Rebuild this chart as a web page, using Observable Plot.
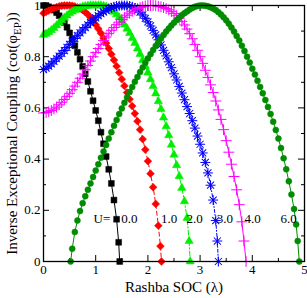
<!DOCTYPE html>
<html><head><meta charset="utf-8">
<script src="https://cdn.jsdelivr.net/npm/d3@7"></script>
<script src="https://cdn.jsdelivr.net/npm/@observablehq/plot@0.6"></script>
<style>body{margin:0;background:#fff}</style>
</head><body><div id="chart"></div>
<script>
// [lambda, cot(phi_EP)]
const u0 = [[0,1],[0.05,1],[0.1,0.995],[0.15,0.99],[0.2,0.982],[0.25,0.972],[0.3,0.96],[0.35,0.948],[0.4,0.933],[0.45,0.915],[0.5,0.893],[0.55,0.868],[0.6,0.843],[0.65,0.817],[0.7,0.79],[0.75,0.762],[0.8,0.733],[0.85,0.703],[0.9,0.665],[0.95,0.628],[1.0,0.59],[1.05,0.55],[1.1,0.505],[1.15,0.46],[1.2,0.41],[1.25,0.36],[1.3,0.305],[1.35,0.24],[1.4,0.165],[1.44,0.075],[1.46,0]];
const u1 = [[0,0.97],[0.05,0.975],[0.1,0.98],[0.15,0.985],[0.2,0.99],[0.25,0.994],[0.3,0.997],[0.35,0.999],[0.4,1],[0.45,1],[0.5,1],[0.55,0.999],[0.6,0.997],[0.65,0.993],[0.7,0.988],[0.75,0.982],[0.8,0.974],[0.85,0.965],[0.9,0.954],[0.95,0.94],[1.0,0.925],[1.05,0.909],[1.1,0.892],[1.15,0.873],[1.2,0.853],[1.25,0.832],[1.3,0.81],[1.35,0.787],[1.4,0.763],[1.45,0.738],[1.5,0.712],[1.55,0.686],[1.6,0.66],[1.65,0.634],[1.7,0.607],[1.75,0.578],[1.8,0.548],[1.85,0.515],[1.9,0.478],[1.95,0.437],[2.0,0.392],[2.05,0.343],[2.1,0.29],[2.15,0.225],[2.2,0.14],[2.24,0.06],[2.26,0]];
const u2 = [[0,0.885],[0.05,0.889],[0.1,0.895],[0.15,0.903],[0.2,0.912],[0.25,0.922],[0.3,0.932],[0.35,0.942],[0.4,0.952],[0.45,0.961],[0.5,0.969],[0.55,0.976],[0.6,0.982],[0.65,0.987],[0.7,0.991],[0.75,0.995],[0.8,0.997],[0.85,0.999],[0.9,1],[0.95,1],[1.0,1],[1.05,1],[1.1,1],[1.15,0.998],[1.2,0.995],[1.25,0.99],[1.3,0.983],[1.35,0.975],[1.4,0.965],[1.45,0.953],[1.5,0.94],[1.55,0.925],[1.6,0.909],[1.65,0.892],[1.7,0.873],[1.75,0.853],[1.8,0.832],[1.85,0.81],[1.9,0.787],[1.95,0.763],[2.0,0.738],[2.05,0.712],[2.1,0.685],[2.15,0.656],[2.2,0.626],[2.25,0.595],[2.3,0.562],[2.35,0.528],[2.4,0.493],[2.45,0.456],[2.5,0.417],[2.55,0.376],[2.6,0.333],[2.65,0.287],[2.7,0.235],[2.75,0.17],[2.79,0.08],[2.81,0]];
const u3 = [[0,0.75],[0.05,0.755],[0.1,0.763],[0.15,0.772],[0.2,0.782],[0.25,0.792],[0.3,0.802],[0.35,0.813],[0.4,0.824],[0.45,0.836],[0.5,0.848],[0.55,0.86],[0.6,0.871],[0.65,0.882],[0.7,0.893],[0.75,0.904],[0.8,0.914],[0.85,0.924],[0.9,0.934],[0.95,0.943],[1.0,0.952],[1.05,0.96],[1.1,0.968],[1.15,0.975],[1.2,0.981],[1.25,0.987],[1.3,0.991],[1.35,0.995],[1.4,0.998],[1.45,0.999],[1.5,1],[1.55,1],[1.6,1],[1.65,0.998],[1.7,0.995],[1.75,0.99],[1.8,0.983],[1.85,0.974],[1.9,0.963],[1.95,0.95],[2.0,0.936],[2.05,0.92],[2.1,0.903],[2.15,0.885],[2.2,0.866],[2.25,0.846],[2.3,0.825],[2.35,0.803],[2.4,0.78],[2.45,0.757],[2.5,0.733],[2.55,0.709],[2.6,0.684],[2.65,0.658],[2.7,0.632],[2.75,0.605],[2.8,0.578],[2.85,0.55],[2.9,0.521],[2.95,0.49],[3.0,0.458],[3.05,0.424],[3.1,0.387],[3.15,0.346],[3.2,0.298],[3.25,0.24],[3.3,0.16],[3.33,0.08],[3.35,0]];
const u4 = [[0,0.58],[0.05,0.582],[0.1,0.585],[0.15,0.59],[0.2,0.596],[0.25,0.603],[0.3,0.612],[0.35,0.622],[0.4,0.633],[0.45,0.645],[0.5,0.657],[0.55,0.671],[0.6,0.685],[0.65,0.7],[0.7,0.716],[0.75,0.732],[0.8,0.749],[0.85,0.766],[0.9,0.783],[0.95,0.8],[1.0,0.816],[1.05,0.832],[1.1,0.848],[1.15,0.863],[1.2,0.877],[1.25,0.89],[1.3,0.903],[1.35,0.914],[1.4,0.925],[1.45,0.935],[1.5,0.945],[1.55,0.954],[1.6,0.962],[1.65,0.97],[1.7,0.977],[1.75,0.983],[1.8,0.988],[1.85,0.992],[1.9,0.995],[1.95,0.998],[2.0,1],[2.05,1],[2.1,1],[2.15,0.999],[2.2,0.997],[2.25,0.995],[2.3,0.992],[2.35,0.988],[2.4,0.983],[2.45,0.977],[2.5,0.969],[2.55,0.96],[2.6,0.95],[2.65,0.938],[2.7,0.924],[2.75,0.908],[2.8,0.89],[2.85,0.87],[2.9,0.848],[2.95,0.825],[3.0,0.8],[3.05,0.774],[3.1,0.747],[3.15,0.719],[3.2,0.69],[3.25,0.66],[3.3,0.627],[3.35,0.592],[3.4,0.555],[3.45,0.515],[3.5,0.472],[3.55,0.427],[3.6,0.38],[3.65,0.332],[3.7,0.28],[3.75,0.222],[3.8,0.155],[3.84,0.08],[3.88,0]];
const u6 = [[0.52,0],[0.55,0.05],[0.6,0.115],[0.65,0.16],[0.7,0.197],[0.75,0.228],[0.8,0.255],[0.85,0.28],[0.9,0.305],[0.95,0.33],[1.0,0.355],[1.05,0.38],[1.1,0.405],[1.15,0.43],[1.2,0.455],[1.25,0.48],[1.3,0.505],[1.35,0.53],[1.4,0.553],[1.45,0.576],[1.5,0.598],[1.55,0.62],[1.6,0.641],[1.65,0.662],[1.7,0.682],[1.75,0.702],[1.8,0.721],[1.85,0.74],[1.9,0.758],[1.95,0.776],[2.0,0.793],[2.05,0.81],[2.1,0.826],[2.15,0.842],[2.2,0.857],[2.25,0.871],[2.3,0.885],[2.35,0.898],[2.4,0.91],[2.45,0.922],[2.5,0.933],[2.55,0.943],[2.6,0.953],[2.65,0.962],[2.7,0.97],[2.75,0.977],[2.8,0.984],[2.85,0.99],[2.9,0.995],[2.95,0.998],[3.0,1],[3.05,1],[3.1,0.999],[3.15,0.997],[3.2,0.993],[3.25,0.988],[3.3,0.982],[3.35,0.974],[3.4,0.965],[3.45,0.954],[3.5,0.942],[3.55,0.929],[3.6,0.914],[3.65,0.898],[3.7,0.881],[3.75,0.863],[3.8,0.843],[3.85,0.822],[3.9,0.8],[3.95,0.777],[4.0,0.753],[4.05,0.73],[4.1,0.706],[4.15,0.682],[4.2,0.657],[4.25,0.631],[4.3,0.604],[4.35,0.576],[4.4,0.546],[4.45,0.514],[4.5,0.48],[4.55,0.443],[4.6,0.403],[4.65,0.36],[4.7,0.313],[4.75,0.262],[4.8,0.205],[4.84,0.145],[4.87,0.08],[4.9,0]];

const uLabels = ["U=", "0.0", "1.0", "2.0", "3.0", "4.0", "6.0"];
const xTicks = [0, 1, 2, 3, 4, 5];
const xMinor = [0.5, 1.5, 2.5, 3.5, 4.5];
const xTickLabels = ["0", "1", "2", "3", "4", "5"];
const yTicks = [0, 0.2, 0.4, 0.6, 0.8, 1];
const yMinor = [0.1, 0.3, 0.5, 0.7, 0.9];
const yTickLabels = ["0", "0.2", "0.4", "0.6", "0.8", "1"];
const xTitle = "Rashba SOC (λ)";
const yTitle = "Inverse Exceptional Coupling (cot(φEP))";

// layout / style
const W = 307, H = 298, mL = 43, mR = 3, mT = 5, mB = 37;
const plotW = W - mL - mR, plotH = H - mT - mB;
const serif = "'Liberation Serif','Times New Roman',serif";
const labelPos = [[0.96,0.168],[1.49,0.168],[2.25,0.168],[2.74,0.168],[3.32,0.168],[3.85,0.168],[4.54,0.168]];

const styles = [
  {data: u0, color: "#000000", dash: null, marks: [{symbol: "square", r: 3.3, fill: true}]},
  {data: u1, color: "#ff0000", dash: "4,3", marks: [{symbol: "square", r: 3.1, fill: true, rotate: 45}]},
  {data: u2, color: "#00ee00", dash: "5,2,1.5,2", marks: [{symbol: "triangle", r: 3.1, fill: true}]},
  {data: u3, color: "#0000ff", dash: "3,2,1,2", marks: [{symbol: "plus", r: 3.3, fill: false}, {symbol: "plus", r: 3.3, fill: false, rotate: 45}]},
  {data: u4, color: "#ff00ff", dash: null, marks: [{symbol: "plus", r: 3.6, fill: false}]},
  {data: u6, color: "#008c00", dash: null, marks: [{symbol: "circle", r: 3, fill: true}]}
];

const marks = [];
for (const s of styles) {
  marks.push(Plot.line(s.data, {x: d => d[0], y: d => d[1], stroke: s.color, strokeWidth: 1, strokeDasharray: s.dash}));
}
for (const s of styles) {
  for (const m of s.marks) {
    marks.push(Plot.dot(s.data, {
      x: d => d[0], y: d => d[1], symbol: m.symbol, r: m.r, rotate: m.rotate || 0,
      fill: m.fill ? s.color : "none", stroke: s.color, strokeWidth: m.fill ? 0.5 : 1
    }));
  }
}

const chart = Plot.plot({
  width: W, height: H,
  marginLeft: mL, marginRight: mR, marginTop: mT, marginBottom: mB,
  style: {fontFamily: serif, background: "#fff", color: "#000"},
  x: {domain: [0, 5]},
  y: {domain: [0, 1]},
  marks: [
    // inner ticks on all four sides
    Plot.ruleX(xTicks, {x: d => d, insetTop: plotH - 6, stroke: "#000"}),
    Plot.ruleX(xTicks, {x: d => d, insetBottom: plotH - 6, stroke: "#000"}),
    Plot.ruleX(xMinor, {x: d => d, insetTop: plotH - 3, stroke: "#000"}),
    Plot.ruleX(xMinor, {x: d => d, insetBottom: plotH - 3, stroke: "#000"}),
    Plot.ruleY(yTicks, {y: d => d, insetRight: plotW - 6, stroke: "#000"}),
    Plot.ruleY(yTicks, {y: d => d, insetLeft: plotW - 6, stroke: "#000"}),
    Plot.ruleY(yMinor, {y: d => d, insetRight: plotW - 3, stroke: "#000"}),
    Plot.ruleY(yMinor, {y: d => d, insetLeft: plotW - 3, stroke: "#000"}),
    Plot.axisX({ticks: xTicks, tickSize: 0, tickPadding: 3, fontSize: 13, label: null, fontFamily: serif,
      tickFormat: d => xTickLabels[xTicks.indexOf(d)]}),
    Plot.axisY({ticks: yTicks, tickSize: 0, tickPadding: 3, fontSize: 13, label: null, fontFamily: serif,
      tickFormat: d => yTickLabels[yTicks.indexOf(d)]}),
    ...marks,
    Plot.text(uLabels, {x: (d, i) => labelPos[i][0], y: (d, i) => labelPos[i][1], text: d => d, textAnchor: "start", fontSize: 13, fill: "#000"}),
    Plot.text([xTitle], {frameAnchor: "bottom", dy: 30, text: d => d, textAnchor: "middle", fontSize: 15, fill: "#000"}),
    Plot.text([yTitle], {frameAnchor: "left", dx: -31, rotate: -90, text: d => d, textAnchor: "middle", fontSize: 15, fill: "#000"}),
    Plot.frame({stroke: "#000", strokeWidth: 1.3})
  ]
});
document.getElementById("chart").appendChild(chart);

// subscript "EP" in the y title
d3.select(chart).selectAll("text").each(function() {
  if (this.textContent === yTitle) {
    const t = d3.select(this);
    t.text(null);
    t.append("tspan").text("Inverse Exceptional Coupling (cot(φ");
    t.append("tspan").attr("dy", 4).attr("font-size", "11px").text("EP");
    t.append("tspan").attr("dy", -4).text("))");
  }
});
</script>
</body></html>
